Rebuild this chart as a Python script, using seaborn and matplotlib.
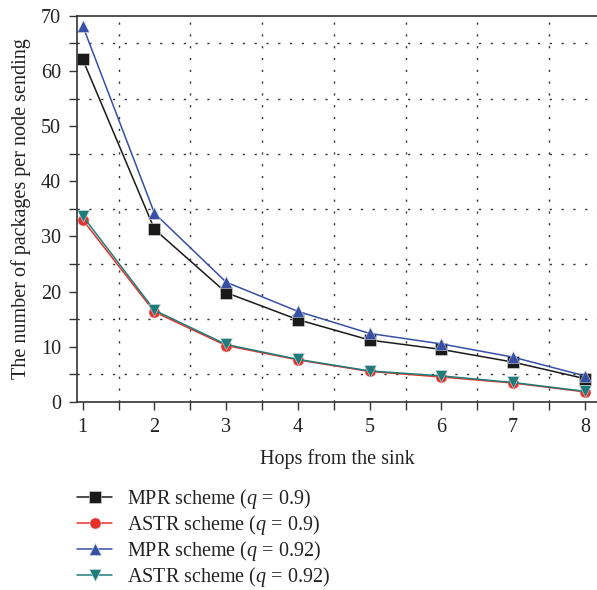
import numpy as np
import pandas as pd
import matplotlib
matplotlib.use("Agg")
import matplotlib.pyplot as plt
import seaborn as sns
from matplotlib.ticker import MultipleLocator

hops = [1, 2, 3, 4, 5, 6, 7, 8]
mpr_09 = [62.1, 31.3, 19.8, 14.9, 11.2, 9.5, 7.2, 4.2]
astr_09 = [33.0, 16.3, 10.2, 7.6, 5.5, 4.5, 3.4, 1.8]
mpr_092 = [68.2, 34.2, 21.7, 16.4, 12.4, 10.5, 8.1, 4.7]
astr_092 = [33.7, 16.6, 10.4, 7.7, 5.6, 4.7, 3.5, 1.9]

series_names = [
    "MPR scheme ($q$ = 0.9)",
    "ASTR scheme ($q$ = 0.9)",
    "MPR scheme ($q$ = 0.92)",
    "ASTR scheme ($q$ = 0.92)",
]
series_values = [mpr_09, astr_09, mpr_092, astr_092]
colors = ["#1a1a1a", "#e8302a", "#3550a5", "#1e7d7a"]
markers = ["s", "o", "^", "v"]

df = pd.DataFrame({
    "hops": np.tile(hops, len(series_names)),
    "value": np.concatenate(series_values),
    "series": np.repeat(series_names, len(hops)),
})

sns.set_theme(style="white")
plt.rcParams["font.family"] = ["Liberation Serif", "DejaVu Serif"]
plt.rcParams["mathtext.fontset"] = "custom"
plt.rcParams["mathtext.it"] = "Liberation Serif:italic"
plt.rcParams["mathtext.rm"] = "Liberation Serif"

FS = 14.5

fig = plt.figure(figsize=(5.97, 5.90), dpi=100)
ax = fig.add_axes([0.129, 0.319, 0.871, 0.654])

sns.lineplot(
    data=df, x="hops", y="value", hue="series", style="series",
    hue_order=series_names, style_order=series_names,
    palette=dict(zip(series_names, colors)),
    markers=dict(zip(series_names, markers)),
    dashes=False, linewidth=1.1, markersize=8,
    markeredgecolor="#dddddd", markeredgewidth=0.4,
    ax=ax, legend=True,
)

ax.set_xlim(0.92, 8.17)
ax.set_ylim(0, 70)
ax.xaxis.set_major_locator(MultipleLocator(1))
ax.xaxis.set_minor_locator(MultipleLocator(0.5))
ax.yaxis.set_major_locator(MultipleLocator(10))
ax.yaxis.set_minor_locator(MultipleLocator(5))

ax.grid(False)
ax.grid(True, which="minor", color="#333333", linewidth=1.0,
        linestyle=(0, (1.6, 6.9)))
ax.tick_params(axis="both", which="both", direction="out", length=5.5,
               width=1.0, color="#333333", labelsize=FS, pad=6,
               labelcolor="#222222")
ax.tick_params(axis="y", which="both", left=True)
ax.tick_params(axis="x", which="both", bottom=True)

for side in ["left", "bottom", "top"]:
    ax.spines[side].set_visible(True)
    ax.spines[side].set_color("#333333")
    ax.spines[side].set_linewidth(1.2)
ax.spines["right"].set_visible(False)

ax.set_xlabel("Hops from the sink", fontsize=FS, color="#222222", labelpad=9)
ax.set_ylabel("The number of packages per node sending", fontsize=FS,
              color="#222222", labelpad=7)

handles, labels = ax.get_legend_handles_labels()
ax.legend_.remove()
fig.legend(handles, labels, loc="upper left", bbox_to_anchor=(0.129, 0.1746),
           frameon=False, fontsize=FS, handlelength=1.75, handletextpad=0.75,
           labelspacing=0.1, borderpad=0, borderaxespad=0, numpoints=1,
           labelcolor="#222222")

fig.savefig("out.png", dpi=100)
